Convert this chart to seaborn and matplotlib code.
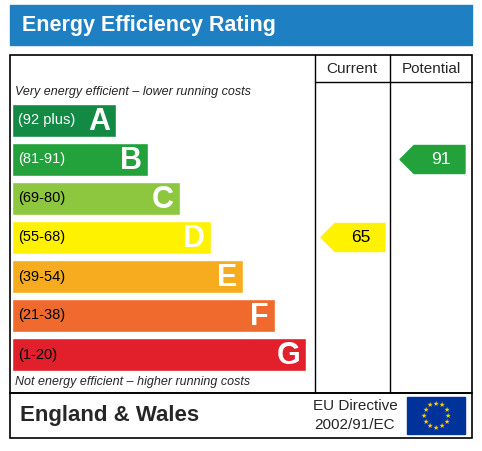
import matplotlib
matplotlib.use("Agg")
import matplotlib.pyplot as plt
import seaborn as sns
from matplotlib.patches import Rectangle, Polygon
import numpy as np

sns.set_theme(style="white")
plt.rcParams['font.family'] = ['Liberation Sans', 'DejaVu Sans']

letters = ["A", "B", "C", "D", "E", "F", "G"]
ranges = ["(92 plus)", "(81-91)", "(69-80)", "(55-68)", "(39-54)", "(21-38)", "(1-20)"]
band_min = [92, 81, 69, 55, 39, 21, 1]
lengths = [104, 136, 168, 199, 231, 263, 294]
colors = ["#138a43", "#23a23c", "#8dc63f", "#fff200", "#f7ac1f", "#ef6a2c", "#e2202b"]
range_text_colors = ["white", "white", "black", "black", "black", "black", "black"]
current = 65
potential = 91

W, H = 482, 451
fig = plt.figure(figsize=(W/100, H/100), dpi=100)
bg = fig.add_axes([0, 0, 1, 1])
bg.set_xlim(0, W); bg.set_ylim(H, 0); bg.axis("off")

bg.add_patch(Rectangle((10, 5), 462, 40, color="#1e7fc3"))
bg.text(22, 26, "Energy Efficiency Rating", color="white", fontsize=15.5, fontweight="bold", va="center")
bg.add_patch(Rectangle((10, 55), 462, 338, fill=False, ec="black", lw=1.2))
bg.add_patch(Rectangle((10, 393), 462, 45, fill=False, ec="black", lw=1.2))
for x in (315, 390):
    bg.plot([x, x], [55, 393], color="black", lw=1)
bg.plot([315, 472], [82, 82], color="black", lw=1)
bg.text(352, 69, "Current", ha="center", va="center", fontsize=11)
bg.text(431, 69, "Potential", ha="center", va="center", fontsize=11)
bg.text(15, 92, "Very energy efficient – lower running costs", fontsize=9, style="italic", va="center")
bg.text(15, 382, "Not energy efficient – higher running costs", fontsize=9, style="italic", va="center")
bg.text(20, 415, "England & Wales", fontsize=16, fontweight="bold", va="center")
bg.text(355, 406, "EU Directive", fontsize=11, ha="center", va="center")
bg.text(355, 425, "2002/91/EC", fontsize=11, ha="center", va="center")
bg.add_patch(Rectangle((407, 397), 58, 37, color="#003399"))
for a in np.linspace(0, 2*np.pi, 12, endpoint=False):
    bg.text(436 + 12*np.sin(a), 415.5 - 12*np.cos(a), "★", color="#ffcc00", fontsize=5,
            ha="center", va="center", family="DejaVu Sans")

ax = fig.add_axes([12/W, 1 - 374/H, (472-12)/W, 273/H])
sns.barplot(x=lengths, y=letters, hue=letters, palette=colors, orient="h", width=0.85,
            legend=False, ax=ax, saturation=1)
ax.set_xlim(0, 460); ax.set_ylim(6.5, -0.5); ax.axis("off")
for i, (l, r, L) in enumerate(zip(letters, ranges, lengths)):
    ax.text(6, i, r, color=range_text_colors[i], fontsize=10.5, va="center")
    ax.text(L - 6, i + 0.03, l, color="white", fontsize=22, fontweight="bold", ha="right", va="center")

def band_index(v):
    for i, m in enumerate(band_min):
        if v >= m:
            return i
    return 6

def arrow(x0, x1, val):
    i = band_index(val)
    yc = 120.5 + 39*i
    h = 14
    pts = [(x0, yc), (x0 + 14, yc - h), (x1, yc - h), (x1, yc + h), (x0 + 14, yc + h)]
    bg.add_patch(Polygon(pts, color=colors[i]))
    bg.text((x0 + 14 + x1)/2 + 1, yc, str(val), fontsize=12.5, ha="center", va="center",
            color="black" if i in (2, 3, 4) else "white")

arrow(321, 385, current)
arrow(400, 465, potential)

fig.savefig("out.png", dpi=100)
